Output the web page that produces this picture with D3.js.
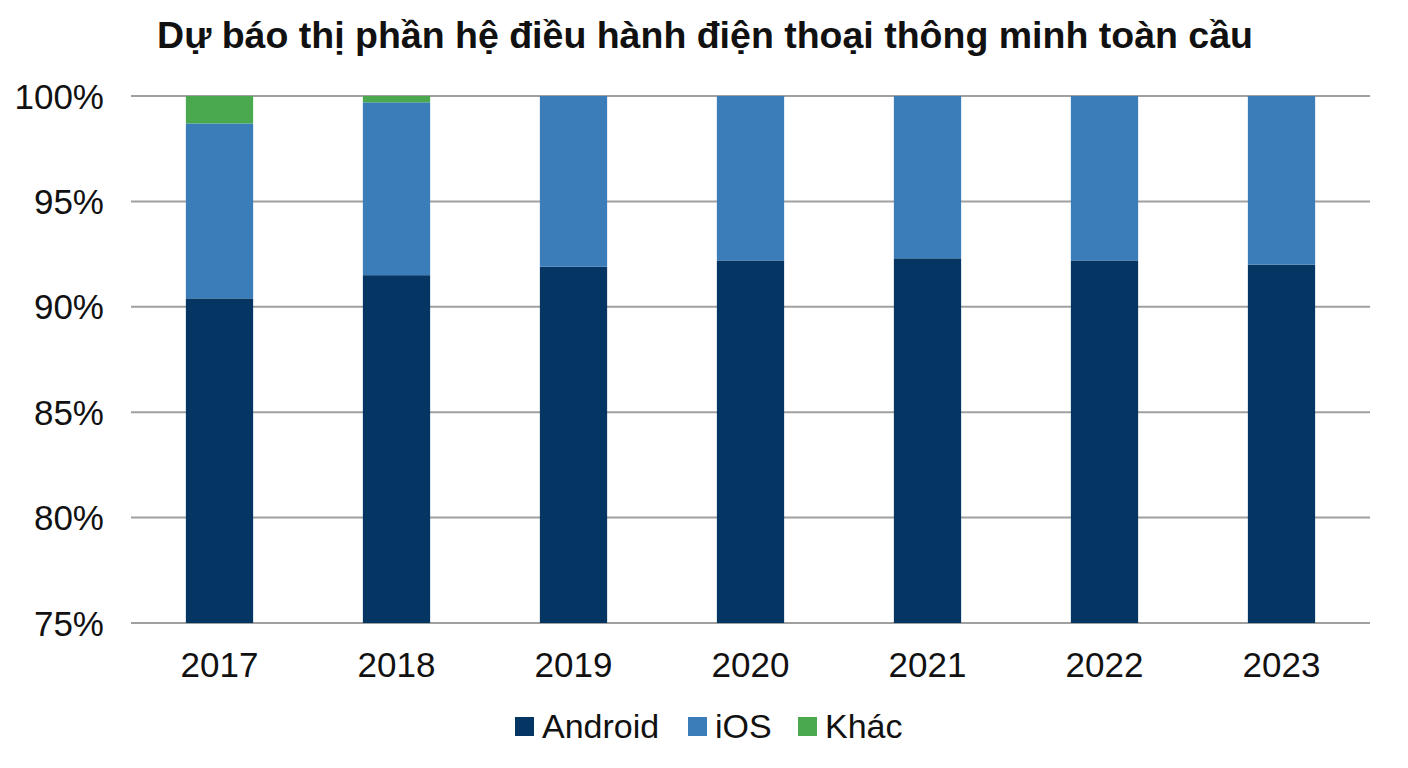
<!DOCTYPE html>
<html>
<head>
<meta charset="utf-8">
<script src="https://cdn.jsdelivr.net/npm/d3@7"></script>
<style>
  body { margin: 0; background: #fff; }
  text { font-family: "Liberation Sans", Arial, sans-serif; }
</style>
</head>
<body>
<div id="chart"></div>
<script>
// data (percent)
const years = ["2017", "2018", "2019", "2020", "2021", "2022", "2023"];
const android = [90.4, 91.5, 91.9, 92.2, 92.3, 92.2, 92.0];
const ios = [8.3, 8.2, 8.1, 7.8, 7.7, 7.8, 8.0];
const khac = [1.3, 0.3, 0.0, 0.0, 0.0, 0.0, 0.0];
const seriesNames = ["Android", "iOS", "Khác"];
const seriesColors = ["#053663", "#3a7db8", "#4aa84f"];
const yTicks = [75, 80, 85, 90, 95, 100];

const width = 1408, height = 768;
const margin = { top: 96, right: 38, bottom: 145, left: 131 };

const svg = d3.select("#chart").append("svg")
  .attr("width", width)
  .attr("height", height);

const x = d3.scaleBand()
  .domain(years)
  .range([margin.left, width - margin.right])
  .paddingInner(0.62)
  .paddingOuter(0.31);

const y = d3.scaleLinear()
  .domain([75, 100])
  .range([height - margin.bottom, margin.top]);

// table for the stack
const table = years.map((yr, i) => ({ year: yr, Android: android[i], iOS: ios[i], "Khác": khac[i] }));
const stacked = d3.stack().keys(seriesNames)(table);
const color = d3.scaleOrdinal().domain(seriesNames).range(seriesColors);

// gridlines
svg.append("g")
  .selectAll("line")
  .data(yTicks)
  .join("line")
  .attr("x1", margin.left)
  .attr("x2", width - margin.right)
  .attr("y1", d => y(d))
  .attr("y2", d => y(d))
  .attr("stroke", "#a0a0a0")
  .attr("stroke-width", 2);

// bars (clip to the 75-100 window)
svg.append("clipPath").attr("id", "plot")
  .append("rect")
  .attr("x", margin.left).attr("y", margin.top)
  .attr("width", width - margin.left - margin.right)
  .attr("height", height - margin.top - margin.bottom);

svg.append("g")
  .attr("clip-path", "url(#plot)")
  .selectAll("g")
  .data(stacked)
  .join("g")
  .attr("fill", d => color(d.key))
  .selectAll("rect")
  .data(d => d)
  .join("rect")
  .attr("x", d => x(d.data.year))
  .attr("width", x.bandwidth())
  .attr("y", d => y(d[1]))
  .attr("height", d => Math.max(0, y(d[0]) - y(d[1])));

// y axis labels
svg.append("g")
  .selectAll("text")
  .data(yTicks)
  .join("text")
  .attr("x", 104)
  .attr("y", d => y(d))
  .attr("dy", "0.36em")
  .attr("text-anchor", "end")
  .style("font-size", "35px")
  .attr("fill", "#111")
  .text(d => d + "%");

// x axis labels
svg.append("g")
  .selectAll("text")
  .data(years)
  .join("text")
  .attr("x", d => x(d) + x.bandwidth() / 2)
  .attr("y", 677)
  .attr("text-anchor", "middle")
  .style("font-size", "35px")
  .attr("fill", "#111")
  .text(d => d);

// title
svg.append("text")
  .attr("x", 705)
  .attr("y", 48)
  .attr("text-anchor", "middle")
  .style("font-size", "37.5px")
  .style("font-weight", "bold")
  .attr("fill", "#111")
  .text("Dự báo thị phần hệ điều hành điện thoại thông minh toàn cầu");

// legend
const legendX = [515, 688, 798];
const legend = svg.append("g")
  .selectAll("g")
  .data(seriesNames)
  .join("g")
  .attr("transform", (d, i) => `translate(${legendX[i]},726)`);

legend.append("rect")
  .attr("x", 0)
  .attr("y", -9)
  .attr("width", 19)
  .attr("height", 19)
  .attr("fill", d => color(d));

legend.append("text")
  .attr("x", 27)
  .attr("y", 0)
  .attr("dy", "0.36em")
  .style("font-size", "34px")
  .attr("fill", "#111")
  .text(d => d);
</script>
</body>
</html>
